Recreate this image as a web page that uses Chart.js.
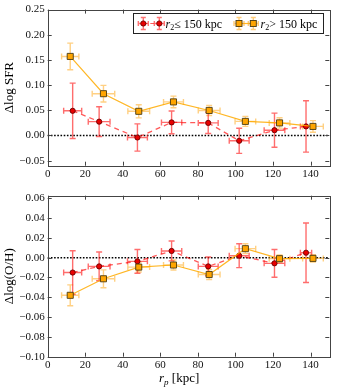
<!DOCTYPE html>
<html>
<head>
<meta charset="utf-8">
<script src="https://cdn.jsdelivr.net/npm/chart.js@4.4.0/dist/chart.umd.min.js"></script>
<style>
html, body { margin: 0; padding: 0; background: #fff; }
#wrap { position: relative; width: 339px; height: 388px; }
#sfr_panel { position: absolute; left: 0; top: 0; }
#oh_panel { position: absolute; left: 0; top: 185px; }
</style>
</head>
<body>
<div id="wrap">
  <canvas id="sfr_panel" width="339" height="185"></canvas>
  <canvas id="oh_panel" width="339" height="203"></canvas>
</div>
<script>
// tick labels
const xTicks = [0, 20, 40, 60, 80, 100, 120, 140];
const sfrTicks = [-0.05, 0.00, 0.05, 0.10, 0.15, 0.20, 0.25];
const ohTicks = [-0.10, -0.08, -0.06, -0.04, -0.02, 0.00, 0.02, 0.04, 0.06];

const legendLabels = ["\u2264 150 kpc", "> 150 kpc"];

// projected separation bins (kpc)
const rpClose = [13.3, 27.4, 47.8, 66.0, 85.5, 102.0, 120.8, 137.6];
const rpCloseErr = [4.8, 5.8, 5.3, 5.4, 5.3, 5.3, 5.5, 3.0];
const rpFar = [12.0, 29.7, 48.5, 67.0, 86.0, 105.3, 123.5, 141.3];
const rpFarErr = [4.6, 6.0, 5.8, 5.3, 5.8, 5.5, 5.5, 5.5];

// delta log SFR
const sfrClose = [0.049, 0.0275, -0.004, 0.026, 0.025, -0.0105, 0.0105, 0.018];
const sfrCloseErr = [0.055, 0.0295, 0.027, 0.0225, 0.021, 0.025, 0.034, 0.051];
const sfrFar = [0.157, 0.083, 0.048, 0.0667, 0.0497, 0.028, 0.025, 0.018];
const sfrFarErr = [0.0265, 0.0165, 0.013, 0.0115, 0.010, 0.010, 0.0103, 0.0115];

// delta log(O/H)
const ohClose = [-0.015, -0.0088, -0.0037, 0.0068, -0.0088, 0.002, -0.0057, 0.005];
const ohCloseErr = [0.022, 0.0145, 0.012, 0.010, 0.0095, 0.012, 0.014, 0.030];
const ohFar = [-0.038, -0.0213, -0.0095, -0.0074, -0.017, 0.0091, -0.001, -0.0007];
const ohFarErr = [0.0105, 0.009, 0.005, 0.005, 0.005, 0.005, 0.0037, 0.0037];

const SERIF = "'Liberation Serif', 'DejaVu Serif', serif";
const RED = "#e80000";
const ORANGE = "#ffa500";

function pts(xs, ys) {
    return xs.map((x, i) => ({ x: x, y: ys[i] }));
}

function fmt(v) {
    if (Math.abs(v) < 1e-9) return "0.00";
    return (v < 0 ? "\u2212" : "") + Math.abs(v).toFixed(2);
}

function errBar(ctx, px, py, x1, x2, y1, y2, cap) {
    ctx.beginPath();
    ctx.moveTo(x1, py); ctx.lineTo(x2, py);
    ctx.moveTo(px, y1); ctx.lineTo(px, y2);
    ctx.moveTo(x1, py - cap); ctx.lineTo(x1, py + cap);
    ctx.moveTo(x2, py - cap); ctx.lineTo(x2, py + cap);
    ctx.moveTo(px - cap, y1); ctx.lineTo(px + cap, y1);
    ctx.moveTo(px - cap, y2); ctx.lineTo(px + cap, y2);
    ctx.stroke();
}

// text with italic r and a subscript
function mixedText(ctx, x, y, size, sub, rest) {
    ctx.textBaseline = "alphabetic";
    ctx.textAlign = "left";
    ctx.font = "italic " + size + "px " + SERIF;
    ctx.fillText("r", x, y);
    x += ctx.measureText("r").width;
    ctx.font = (sub === "p" ? "italic " : "") + Math.round(size * 0.7) + "px " + SERIF;
    ctx.fillText(sub, x, y + size * 0.22);
    x += ctx.measureText(sub).width;
    ctx.font = size + "px " + SERIF;
    ctx.fillText(rest, x, y);
}

function drawMarker(ctx, kind, x, y) {
    ctx.lineWidth = 0.9;
    if (kind === "circle") {
        ctx.fillStyle = RED; ctx.strokeStyle = "#6a0000";
        ctx.beginPath(); ctx.arc(x, y, 2.6, 0, Math.PI * 2); ctx.fill(); ctx.stroke();
    } else {
        ctx.fillStyle = ORANGE; ctx.strokeStyle = "#4a3a10";
        ctx.fillRect(x - 3, y - 3, 6, 6); ctx.strokeRect(x - 3, y - 3, 6, 6);
    }
}

const extras = {
    id: "extras",
    beforeDatasetsDraw(chart) {
        const ctx = chart.ctx, xs = chart.scales.x, ys = chart.scales.y, a = chart.chartArea;
        ctx.save();
        // zero reference line
        const y0 = ys.getPixelForValue(0);
        ctx.strokeStyle = "#000";
        ctx.lineWidth = 1.6;
        ctx.setLineDash([1.6, 1.6]);
        ctx.beginPath(); ctx.moveTo(a.left, y0); ctx.lineTo(a.right, y0); ctx.stroke();
        ctx.setLineDash([]);
        // error bars
        chart.data.datasets.forEach(ds => {
            ctx.strokeStyle = ds.errColor;
            ctx.lineWidth = 1.4;
            ds.data.forEach((p, j) => {
                errBar(ctx,
                    xs.getPixelForValue(p.x), ys.getPixelForValue(p.y),
                    xs.getPixelForValue(p.x - ds.xErr[j]), xs.getPixelForValue(p.x + ds.xErr[j]),
                    ys.getPixelForValue(p.y - ds.yErr[j]), ys.getPixelForValue(p.y + ds.yErr[j]), 3);
            });
        });
        ctx.restore();
    },
    afterDraw(chart, args, opts) {
        const ctx = chart.ctx, xs = chart.scales.x, ys = chart.scales.y, a = chart.chartArea;
        ctx.save();
        // frame + inward ticks
        ctx.strokeStyle = "#444";
        ctx.lineWidth = 1;
        ctx.strokeRect(Math.round(a.left) + 0.5, Math.round(a.top) + 0.5,
            Math.round(a.right - a.left), Math.round(a.bottom - a.top));
        ctx.beginPath();
        xs.ticks.forEach(t => {
            const px = Math.round(xs.getPixelForValue(t.value)) + 0.5;
            ctx.moveTo(px, a.bottom); ctx.lineTo(px, a.bottom - 4);
            ctx.moveTo(px, a.top); ctx.lineTo(px, a.top + 4);
        });
        ys.ticks.forEach(t => {
            const py = Math.round(ys.getPixelForValue(t.value)) + 0.5;
            ctx.moveTo(a.left, py); ctx.lineTo(a.left + 4, py);
            ctx.moveTo(a.right, py); ctx.lineTo(a.right - 4, py);
        });
        ctx.stroke();

        if (opts.legend) {
            ctx.strokeStyle = "#222";
            ctx.strokeRect(133.5, 13.5, 190, 20);
            const ly = 23.5;
            const items = [
                { kind: "circle", xs: [143.3, 159.3], tx: 165.5, err: "rgba(255,40,40,0.65)", line: "rgba(255,0,0,0.65)", dash: [4, 3] },
                { kind: "rect", xs: [239, 253.3], tx: 260.5, err: "rgba(255,170,30,0.6)", line: "rgba(255,170,0,0.85)", dash: [] }
            ];
            items.forEach((it, k) => {
                ctx.strokeStyle = it.line; ctx.lineWidth = 1.2; ctx.setLineDash(it.dash);
                ctx.beginPath(); ctx.moveTo(it.xs[0], ly); ctx.lineTo(it.xs[1], ly); ctx.stroke();
                ctx.setLineDash([]);
                ctx.strokeStyle = it.err; ctx.lineWidth = 1.4;
                it.xs.forEach(x => errBar(ctx, x, ly, x - 5, x + 5, ly - 6, ly + 6, 2.5));
                it.xs.forEach(x => drawMarker(ctx, it.kind, x, ly));
                ctx.fillStyle = "#000";
                mixedText(ctx, it.tx, ly + 4, 12, "2", legendLabels[k]);
            });
        }
        if (opts.xTitle) {
            ctx.fillStyle = "#000";
            mixedText(ctx, 159, chart.height - 6, 13, "p", " [kpc]");
        }
        ctx.restore();
    }
};

function makePanel(id, yClose, yCloseErr, yFar, yFarErr, yMin, yMax, yTicks, yTitle, topPad, xHeight, opts) {
    const ctx = document.getElementById(id).getContext("2d");
    return new Chart(ctx, {
        type: "scatter",
        data: {
            datasets: [
                {
                    label: "r2 > 150 kpc",
                    data: pts(rpFar, yFar),
                    xErr: rpFarErr, yErr: yFarErr,
                    errColor: "rgba(255,170,30,0.55)",
                    showLine: true,
                    borderColor: "rgba(255,170,0,0.85)",
                    borderWidth: 1.2,
                    pointStyle: "rect",
                    pointRadius: 4.3,
                    pointBackgroundColor: ORANGE,
                    pointBorderColor: "#4a3a10",
                    pointBorderWidth: 0.9
                },
                {
                    label: "r2 <= 150 kpc",
                    data: pts(rpClose, yClose),
                    xErr: rpCloseErr, yErr: yCloseErr,
                    errColor: "rgba(255,30,30,0.65)",
                    showLine: true,
                    borderColor: "rgba(255,0,0,0.65)",
                    borderWidth: 1.3,
                    borderDash: [5, 4],
                    pointStyle: "circle",
                    pointRadius: 2.6,
                    pointBackgroundColor: RED,
                    pointBorderColor: "#6a0000",
                    pointBorderWidth: 0.9
                }
            ]
        },
        options: {
            responsive: false,
            animation: false,
            events: [],
            layout: { padding: { left: 0, top: topPad, right: 9.7, bottom: 0 } },
            plugins: {
                legend: { display: false },
                tooltip: { enabled: false },
                extras: opts
            },
            scales: {
                x: {
                    type: "linear",
                    min: 0, max: 150,
                    grid: { display: false, drawTicks: false },
                    border: { display: false },
                    afterBuildTicks: s => { s.ticks = xTicks.map(v => ({ value: v })); },
                    afterFit: s => { s.height = xHeight; },
                    ticks: { padding: 2, color: "#111", font: { family: SERIF, size: 11 } }
                },
                y: {
                    min: yMin, max: yMax,
                    grid: { display: false, drawTicks: false },
                    border: { display: false },
                    afterBuildTicks: s => { s.ticks = yTicks.map(v => ({ value: v })); },
                    afterFit: s => { s.width = 47.7; },
                    ticks: { padding: 3, color: "#111", font: { family: SERIF, size: 11 }, callback: v => fmt(v) },
                    title: { display: true, text: yTitle, color: "#000", padding: { top: 2, bottom: 0 }, font: { family: SERIF, size: 13 } }
                }
            }
        },
        plugins: [extras]
    });
}

makePanel("sfr_panel", sfrClose, sfrCloseErr, sfrFar, sfrFarErr, -0.06, 0.25, sfrTicks,
    "\u0394log SFR", 8, 19.3, { legend: true, xTitle: false });
makePanel("oh_panel", ohClose, ohCloseErr, ohFar, ohFarErr, -0.10, 0.0626, ohTicks,
    "\u0394log(O/H)", 10.7, 31.3, { legend: false, xTitle: true });
</script>
</body>
</html>
